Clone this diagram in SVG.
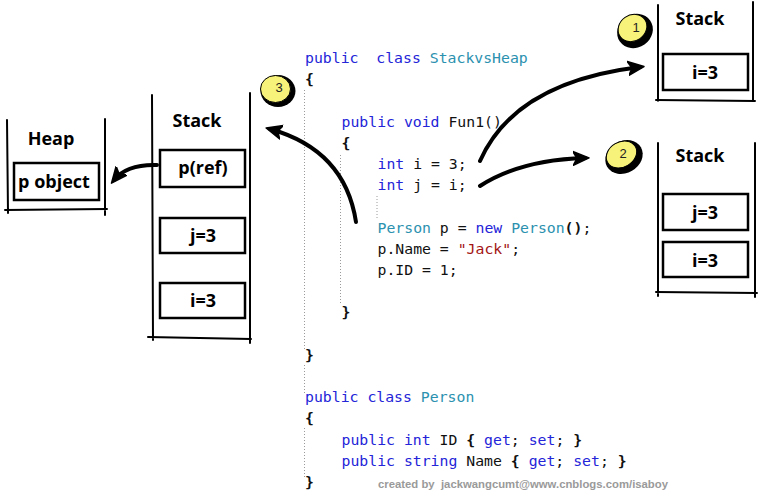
<svg xmlns="http://www.w3.org/2000/svg" width="764" height="502" viewBox="0 0 764 502">
<style>
.code{font-family:"DejaVu Sans Mono",monospace;font-size:14.8px;fill:#111}
.kw{fill:#2424d8}
.ty{fill:#2b91af}
.str{fill:#a31515}
.b{font-weight:bold}
.guide{stroke:#9a9a9a;stroke-width:1;stroke-dasharray:1 2;fill:none}
.wall{stroke:#000;stroke-width:2;fill:none;stroke-linecap:round}
.cell{stroke:#000;stroke-width:2.5;fill:#fff}
.lbl{font-family:"Open Sans","Liberation Sans",Arial,sans-serif;font-weight:bold;font-size:18px;fill:#000;text-anchor:middle}
.badge-sh{fill:#000}
.badge{fill:#f6f27a;stroke:#000;stroke-width:1}
.num{font-family:"Liberation Sans",Arial,sans-serif;font-size:13px;fill:#222;text-anchor:middle}
.conn{stroke:#000;stroke-width:4;fill:none;stroke-linecap:round;marker-end:url(#ah)}
.wm{font-family:"Liberation Sans",Arial,sans-serif;font-weight:bold;font-size:11px;fill:#9a9a9a}
</style>
<defs>
<marker id="ah" markerUnits="userSpaceOnUse" markerWidth="18" markerHeight="16" refX="12" refY="8" orient="auto" viewBox="0 0 18 16">
<path d="M0,1 L16,8 L0,15 L4,8 Z" fill="#000" stroke="#000" stroke-width="1.5" stroke-linejoin="round"/>
</marker>
</defs>
<rect width="764" height="502" fill="#fff"/>

<g id="code" class="code">
<path class="guide" d="M304.5,90 V350 M304.5,365 V393 M304.5,428 V478 M340.5,155 V305 M377,196 V220"/>
<text x="305" y="63"><tspan class="kw">public</tspan>&#160; <tspan class="kw">class</tspan> <tspan class="ty">StackvsHeap</tspan></text>
<text x="305" y="84.2" class="b">{</text>
<text x="341.5" y="126.6"><tspan class="kw">public</tspan> <tspan class="kw">void</tspan> Fun1()</text>
<text x="341.5" y="147.8" class="b">{</text>
<text x="377.5" y="169"><tspan class="kw">int</tspan> i = 3;</text>
<text x="377.5" y="190.2"><tspan class="kw">int</tspan> j = i;</text>
<text x="377.5" y="232.6"><tspan class="ty">Person</tspan> p = <tspan class="kw">new</tspan> <tspan class="ty">Person</tspan><tspan class="b">()</tspan>;</text>
<text x="377.5" y="253.8">p.Name = <tspan class="str">"Jack"</tspan>;</text>
<text x="377.5" y="275">p.ID = 1;</text>
<text x="341.5" y="317.4" class="b">}</text>
<text x="305" y="359.8" class="b">}</text>
<text x="305" y="402.2"><tspan class="kw">public</tspan> <tspan class="kw">class</tspan> <tspan class="ty">Person</tspan></text>
<text x="305" y="423.4" class="b">{</text>
<text x="341.5" y="444.6"><tspan class="kw">public</tspan> <tspan class="kw">int</tspan> ID <tspan class="b">{</tspan> <tspan class="kw">get</tspan>; <tspan class="kw">set</tspan>; <tspan class="b">}</tspan></text>
<text x="341.5" y="465.8"><tspan class="kw">public</tspan> <tspan class="kw">string</tspan> Name <tspan class="b">{</tspan> <tspan class="kw">get</tspan>; <tspan class="kw">set</tspan>; <tspan class="b">}</tspan></text>
<text x="305" y="487" class="b">}</text>
</g>

<g id="heap">
<path class="wall" d="M7,120 L8,213 M105,119 L105,215 M5,210 L107,209"/>
<text class="lbl" x="51" y="145">Heap</text>
<rect class="cell" x="14" y="163" width="85" height="37"/>
<text class="lbl" x="54" y="188">p object</text>
</g>

<g id="stack-main">
<path class="wall" d="M152,95 L153,340 M250,93 L250,343 M148,337 L251,339"/>
<text class="lbl" x="197" y="127">Stack</text>
<rect class="cell" x="160" y="150" width="85" height="37"/>
<text class="lbl" x="203" y="174">p(ref)</text>
<rect class="cell" x="160" y="218" width="85" height="35"/>
<text class="lbl" x="203" y="242">j=3</text>
<rect class="cell" x="160" y="283" width="85" height="35"/>
<text class="lbl" x="203" y="307">i=3</text>
</g>

<g id="stack-1">
<path class="wall" d="M658,5 L658,101 M753,2 L753,101 M656,100 L755,101"/>
<text class="lbl" x="700" y="25">Stack</text>
<rect class="cell" x="663" y="54" width="85" height="36"/>
<text class="lbl" x="705" y="79">i=3</text>
</g>

<g id="stack-2">
<path class="wall" d="M658,143 L658,296 M755,143 L755,297 M656,292 L757,293"/>
<text class="lbl" x="700" y="162">Stack</text>
<rect class="cell" x="663" y="194" width="85" height="36"/>
<text class="lbl" x="705" y="219">j=3</text>
<rect class="cell" x="663" y="242" width="85" height="35"/>
<text class="lbl" x="705" y="267">i=3</text>
</g>

<g id="badge-1">
<ellipse class="badge-sh" cx="635" cy="31" rx="18.5" ry="16.5" transform="rotate(-35 635 31)"/>
<ellipse class="badge" cx="632.5" cy="28" rx="15" ry="13" transform="rotate(-35 632.5 28)"/>
<text class="num" x="636" y="32">1</text>
</g>
<g id="badge-2">
<ellipse class="badge-sh" cx="624" cy="157" rx="19.5" ry="16" transform="rotate(-30 624 157)"/>
<ellipse class="badge" cx="621.5" cy="154.5" rx="16" ry="12.5" transform="rotate(-30 621.5 154.5)"/>
<text class="num" x="623" y="158">2</text>
</g>
<g id="badge-3">
<ellipse class="badge-sh" cx="278" cy="91" rx="17.5" ry="16"/>
<ellipse class="badge" cx="275.5" cy="89" rx="15" ry="13.5"/>
<text class="num" x="279" y="92">3</text>
</g>

<g id="connectors">
<path class="conn" d="M480,161 Q515,82 640,67"/>
<path class="conn" d="M480,186 Q520,160 585,158"/>
<path class="conn" d="M356,222 Q345,150 270,129"/>
<path class="conn" d="M157,165 Q127,164 114,180"/>
</g>

<text id="watermark" class="wm" x="378" y="488" textLength="290" lengthAdjust="spacingAndGlyphs">created by&#160; jackwangcumt@www.cnblogs.com/isaboy</text>
</svg>
